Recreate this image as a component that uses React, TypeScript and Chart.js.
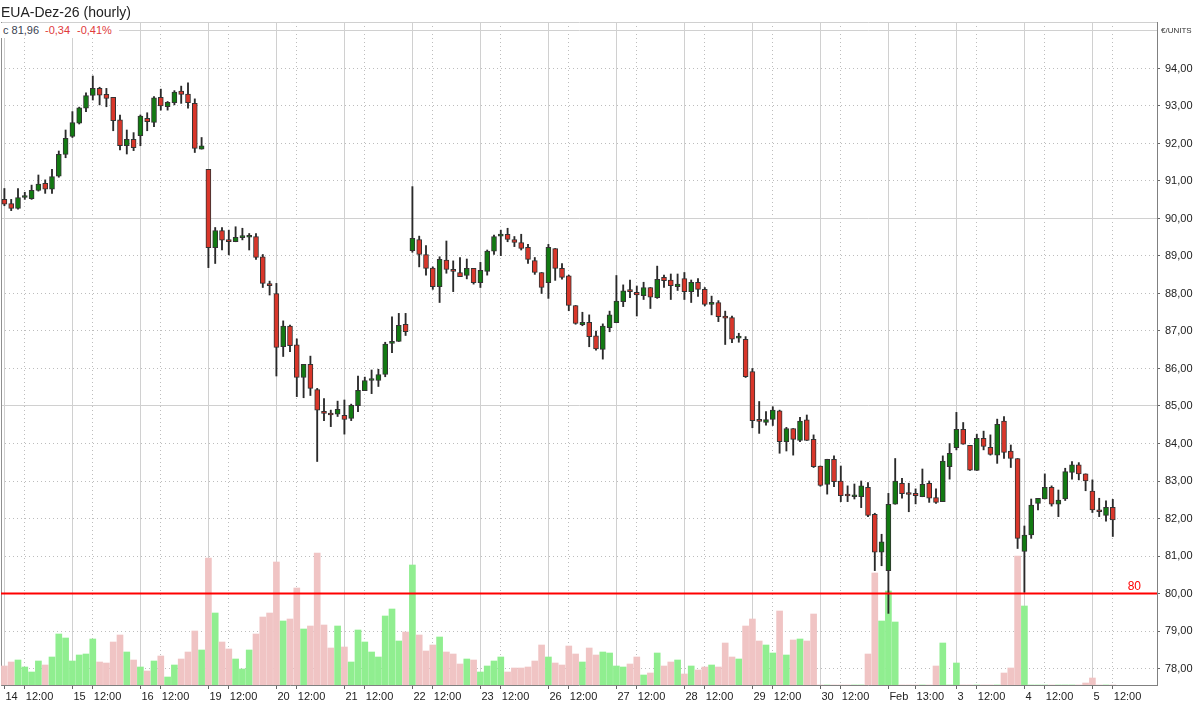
import React, { useEffect, useRef } from "react";
import { Chart, registerables } from "chart.js";

Chart.register(...registerables);

// ---- data (hourly candles, index 0 = 14 Jan 09:00) ----
const opens = [
  90.51, 90.40, 90.27, 90.56, 90.53, 90.75, 90.94, 90.78, 91.13, 91.71,
  92.19, 92.54, 92.94, 93.28, 93.47, 93.31, 93.23, 92.63, 91.94, 92.11,
  92.21, 92.67, 92.56, 93.23, 92.98, 93.09, 93.40, 93.32, 93.07, 91.85,
  91.31, 89.22, 89.68, 89.44, 89.38, 89.49, 89.50, 89.52, 88.98, 88.24,
  88.00, 86.58, 87.13, 86.63, 85.76, 86.11, 85.44, 84.86, 84.77, 84.78,
  84.75, 84.67, 85.01, 85.41, 85.68, 85.68, 85.84, 86.67, 86.72, 87.18,
  89.14, 89.44, 89.04, 88.68, 88.18, 88.89, 88.64, 88.56, 88.48, 88.67,
  88.29, 88.59, 89.13, 89.53, 89.58, 89.44, 89.36, 89.23, 88.88, 88.56,
  88.29, 89.20, 88.67, 88.47, 87.68, 87.17, 87.23, 86.87, 86.51, 87.09,
  87.22, 87.78, 88.07, 88.03, 87.94, 88.16, 87.89, 88.43, 88.36, 88.18,
  88.40, 88.05, 88.30, 88.11, 87.71, 87.76, 87.40, 87.36, 86.81, 86.78,
  85.92, 84.61, 84.56, 84.64, 84.87, 84.05, 84.40, 84.08, 84.63, 84.11,
  83.40, 82.91, 83.58, 83.00, 82.62, 82.58, 82.58, 82.83, 82.11, 81.10,
  80.61, 82.38, 82.94, 82.66, 82.67, 82.58, 82.94, 82.56, 82.45, 83.38,
  83.89, 84.38, 83.95, 83.28, 84.14, 83.90, 83.69, 84.60, 83.80, 83.60,
  81.12, 81.56, 82.40, 82.52, 82.83, 82.38, 82.52, 83.23, 83.43, 83.19,
  82.73, 82.20, 82.08, 82.30,
];
const highs = [
  90.80, 90.51, 90.80, 90.70, 90.89, 91.16, 91.03, 91.31, 91.80, 92.36,
  92.85, 92.97, 93.35, 93.80, 93.50, 93.47, 93.23, 92.76, 92.36, 92.29,
  92.76, 92.82, 93.25, 93.45, 93.12, 93.41, 93.53, 93.62, 93.19, 92.16,
  91.31, 89.76, 89.76, 89.69, 89.78, 89.74, 89.60, 89.60, 89.04, 88.33,
  88.27, 87.27, 87.16, 86.79, 86.11, 86.33, 85.47, 85.20, 84.89, 85.13,
  85.16, 85.05, 85.80, 85.77, 85.96, 85.98, 86.70, 87.38, 87.47, 87.47,
  90.85, 89.53, 89.28, 88.71, 88.98, 89.40, 88.87, 88.96, 88.92, 88.67,
  88.83, 89.16, 89.56, 89.69, 89.74, 89.52, 89.58, 89.31, 88.96, 88.56,
  89.31, 89.20, 88.80, 88.49, 87.68, 87.50, 87.43, 87.00, 87.19, 87.53,
  88.48, 88.23, 88.36, 88.20, 88.30, 88.16, 88.73, 88.49, 88.52, 88.52,
  88.56, 88.36, 88.40, 88.16, 87.93, 87.81, 87.53, 87.40, 86.94, 86.85,
  86.00, 85.12, 84.85, 84.98, 84.89, 84.43, 84.40, 84.70, 84.76, 84.23,
  83.40, 83.58, 83.67, 83.40, 82.87, 82.92, 83.00, 82.96, 82.14, 81.58,
  82.67, 83.60, 83.07, 82.94, 82.79, 83.32, 83.00, 82.79, 83.67, 84.00,
  84.83, 84.56, 83.95, 84.25, 84.33, 84.23, 84.65, 84.72, 83.96, 83.60,
  81.80, 82.52, 82.54, 83.19, 82.87, 82.76, 83.34, 83.52, 83.49, 83.19,
  83.03, 82.54, 82.47, 82.51,
];
const lows = [
  90.34, 90.21, 90.25, 90.51, 90.51, 90.73, 90.67, 90.67, 91.10, 91.62,
  92.16, 92.52, 92.85, 93.16, 93.03, 92.98, 92.34, 91.83, 91.72, 91.81,
  91.94, 92.34, 92.45, 92.89, 92.89, 93.03, 93.07, 92.94, 91.76, 91.85,
  88.69, 88.80, 89.16, 89.03, 89.38, 89.43, 89.16, 88.91, 88.16, 87.96,
  85.80, 86.32, 86.45, 85.25, 85.22, 85.28, 83.52, 84.61, 84.45, 84.72,
  84.25, 84.61, 84.85, 85.41, 85.33, 85.52, 85.78, 86.42, 86.72, 86.88,
  89.10, 88.71, 88.49, 88.11, 87.76, 88.54, 88.05, 88.45, 88.39, 88.25,
  88.16, 88.49, 89.04, 89.01, 89.38, 89.25, 89.16, 88.80, 88.51, 88.00,
  87.87, 88.35, 88.38, 87.54, 87.18, 87.14, 86.58, 86.49, 86.25, 86.98,
  87.22, 87.65, 87.89, 87.40, 87.84, 87.60, 87.87, 88.16, 87.84, 88.08,
  87.84, 87.76, 87.92, 87.67, 87.43, 87.25, 86.64, 86.69, 86.70, 85.76,
  84.42, 84.27, 84.49, 84.48, 83.74, 83.80, 83.69, 84.05, 84.08, 83.36,
  82.86, 82.65, 82.85, 82.45, 82.45, 82.52, 82.29, 82.05, 80.61, 80.74,
  79.47, 82.38, 82.54, 82.18, 82.39, 82.58, 82.43, 82.40, 82.45, 83.05,
  83.83, 83.98, 83.28, 83.28, 83.83, 83.69, 83.47, 83.60, 83.36, 81.20,
  80.03, 81.47, 82.23, 82.52, 82.33, 82.05, 82.48, 83.05, 83.03, 82.74,
  82.16, 82.05, 81.93, 81.52,
];
const closes = [
  90.38, 90.27, 90.56, 90.59, 90.75, 90.92, 90.78, 91.12, 91.71, 92.14,
  92.56, 92.95, 93.28, 93.47, 93.29, 93.20, 92.61, 91.94, 92.11, 91.89,
  92.73, 92.58, 93.22, 93.00, 93.10, 93.37, 93.31, 93.09, 91.87, 91.94,
  89.22, 89.68, 89.42, 89.38, 89.50, 89.51, 89.53, 88.96, 88.27, 88.21,
  86.56, 87.13, 86.61, 85.76, 86.11, 85.47, 84.89, 84.80, 84.76, 84.91,
  84.64, 85.02, 85.42, 85.68, 85.71, 85.84, 86.65, 86.72, 87.15, 86.98,
  89.47, 89.04, 88.67, 88.18, 88.91, 88.64, 88.59, 88.45, 88.67, 88.29,
  88.62, 89.13, 89.52, 89.57, 89.44, 89.36, 89.20, 88.91, 88.56, 88.16,
  89.23, 88.67, 88.43, 87.68, 87.20, 87.23, 86.85, 86.52, 87.13, 87.43,
  87.80, 88.07, 88.05, 87.96, 88.16, 87.90, 88.38, 88.34, 88.21, 88.25,
  88.05, 88.30, 88.11, 87.71, 87.76, 87.38, 87.34, 86.78, 86.83, 85.78,
  84.61, 84.59, 84.64, 84.89, 84.05, 84.40, 84.11, 84.60, 84.08, 83.38,
  82.88, 83.58, 82.98, 82.61, 82.60, 82.62, 82.87, 82.08, 81.10, 81.38,
  82.38, 83.00, 82.66, 82.64, 82.61, 82.91, 82.54, 82.43, 83.53, 83.74,
  84.38, 83.98, 83.29, 84.14, 83.92, 83.71, 84.51, 83.76, 83.60, 81.47,
  81.56, 82.36, 82.54, 82.83, 82.38, 82.49, 83.25, 83.43, 83.19, 83.00,
  82.23, 82.18, 82.30, 81.96,
];
const volumes = [
  19, 23, 25, 18, 13, 24, 20, 28, 51, 47,
  24, 30, 31, 46, 23, 22, 43, 50, 33, 25,
  18, 14, 24, 29, 8, 20, 26, 33, 54, 35,
  127, 72, 43, 36, 26, 16, 35, 51, 68, 72,
  123, 64, 66, 97, 56, 59, 132, 60, 37, 59,
  38, 23, 55, 43, 33, 28, 69, 76, 44, 53,
  120, 50, 34, 40, 48, 33, 31, 21, 26, 25,
  13, 19, 24, 28, 13, 17, 17, 18, 24, 40,
  28, 22, 20, 39, 31, 23, 37, 30, 33, 32,
  19, 18, 21, 28, 10, 12, 32, 19, 23, 25,
  11, 19, 15, 18, 20, 18, 42, 28, 26, 59,
  66, 44, 40, 32, 74, 30, 45, 46, 44, 71,
  0, 0, 0, 0, 0, 0, 0, 31, 112, 64,
  94, 63, 0, 0, 0, 0, 0, 19, 42, 0,
  22, 0, 0, 0, 0, 0, 0, 12, 17, 129,
  79, 0, 0, 0, 0, 0, 0, 0, 0, 2,
  7, 0, 0, 0,
];

const xTickIndex = [0, 3, 10, 13, 20, 23, 30, 33, 40, 43, 50, 53, 60, 63, 70, 73, 80, 83, 90, 93, 100, 103, 110, 113, 120, 123, 130, 134, 140, 143, 150, 153, 160, 163];
const xTickLabels = ["14", "12:00", "15", "12:00", "16", "12:00", "19", "12:00", "20", "12:00", "21", "12:00", "22", "12:00", "23", "12:00", "26", "12:00", "27", "12:00", "28", "12:00", "29", "12:00", "30", "12:00", "Feb", "13:00", "3", "12:00", "4", "12:00", "5", "12:00"];
const priceTicks = [78, 79, 80, 81, 82, 83, 84, 85, 86, 87, 88, 89, 90, 91, 92, 93, 94];
const majorPriceLines = [80, 85, 90, 95];
const priceMin = 77.56;
const priceMax = 95.24;
const slotMin = -0.5;
const slotMax = 169.5;
const volumeMax = 663;
const alertLevel = 80;
const titleText = "EUA-Dez-26 (hourly)";
const lastCloseText = "c 81,96";
const changeText = "-0,34";
const changePctText = "-0,41%";
const unitText = "€/UNITS";

const FONT = '"Liberation Sans", Arial, sans-serif';
const RED = "#d9362a";
const GREEN = "#127a12";
const VOL_RED = "#f0c4c4";
const VOL_GREEN = "#90ee90";
const DOT = "#bdbdbd";
const SOLID = "#d0d0d0";
const TRANSPARENT = "rgba(0,0,0,0)";

const isDayLabel = (i: number) => !!xTickLabels[i] && xTickLabels[i].indexOf(":") < 0;
const dayTickIndex = xTickIndex.filter((_, i) => isDayLabel(i));

const levelLinePlugin = {
  id: "levelLine",
  afterDatasetsDraw(chart: any) {
    const { ctx, chartArea, scales } = chart;
    const y = scales.y.getPixelForValue(alertLevel);
    ctx.save();
    ctx.strokeStyle = "#ff0000";
    ctx.lineWidth = 2;
    ctx.beginPath();
    ctx.moveTo(chartArea.left, y);
    ctx.lineTo(chartArea.right, y);
    ctx.stroke();
    ctx.fillStyle = "#ff0000";
    ctx.font = `12px ${FONT}`;
    ctx.textAlign = "right";
    ctx.textBaseline = "alphabetic";
    ctx.fillText(String(alertLevel), chartArea.right - 16, y - 4);
    ctx.restore();
  },
};

export default function App() {
  const canvasRef = useRef<HTMLCanvasElement | null>(null);

  useEffect(() => {
    if (!canvasRef.current) return;
    const idx = opens.map((_, i) => i);
    const up = (i: number) => closes[i] >= opens[i];

    const chart = new Chart(canvasRef.current, {
      type: "bar",
      data: {
        datasets: [
          {
            label: "body",
            data: idx.map((i) => ({ x: i, y: [opens[i], closes[i]] })) as any,
            backgroundColor: idx.map((i) => (up(i) ? GREEN : RED)),
            borderColor: "#333333",
            borderWidth: 1,
            borderSkipped: false,
            barThickness: 5,
            minBarLength: 2,
            grouped: false,
            order: 0,
            xAxisID: "x",
            yAxisID: "y",
          } as any,
          {
            label: "wick",
            data: idx.map((i) => ({ x: i, y: [lows[i], highs[i]] })) as any,
            backgroundColor: "#2a2a2a",
            borderWidth: 0,
            barThickness: 1.2,
            grouped: false,
            order: 1,
            xAxisID: "x",
            yAxisID: "y",
          } as any,
          {
            label: "volume",
            data: idx.map((i) => ({ x: i, y: volumes[i] })) as any,
            backgroundColor: idx.map((i) => (up(i) ? VOL_GREEN : VOL_RED)),
            borderWidth: 0,
            barThickness: 6,
            grouped: false,
            order: 2,
            xAxisID: "x",
            yAxisID: "yVol",
          } as any,
        ],
      },
      options: {
        responsive: false,
        animation: false,
        devicePixelRatio: 1,
        events: [],
        layout: { padding: { left: 1, top: 22, right: 0, bottom: 0 } },
        plugins: { legend: { display: false }, tooltip: { enabled: false } },
        scales: {
          x: {
            type: "linear",
            position: "bottom",
            min: slotMin,
            max: slotMax,
            offset: false,
            afterBuildTicks: (s: any) => {
              s.ticks = xTickIndex.map((v) => ({ value: v }));
            },
            afterFit: (s: any) => {
              s.height = 20;
            },
            ticks: {
              autoSkip: false,
              maxRotation: 0,
              minRotation: 0,
              align: "start",
              padding: 1,
              labelOffset: 1,
              color: "#222222",
              font: { family: FONT, size: 11 },
              callback: (_v: any, i: number) => xTickLabels[i],
            },
            grid: {
              offset: false,
              color: (c: any) => (isDayLabel(c.index) ? TRANSPARENT : DOT),
              lineWidth: 1,
              drawTicks: true,
              tickLength: 4,
              tickColor: "#666666",
              tickWidth: 1,
              tickBorderDash: [],
            },
            border: { display: true, color: "#808080", width: 1, dash: [1, 3] },
          },
          x2: {
            type: "linear",
            position: "top",
            min: slotMin,
            max: slotMax,
            offset: false,
            afterBuildTicks: (s: any) => {
              s.ticks = dayTickIndex.map((v) => ({ value: v }));
            },
            afterFit: (s: any) => {
              s.height = 0;
            },
            ticks: { display: false },
            grid: { offset: false, color: SOLID, lineWidth: 1, drawTicks: false },
            border: { display: true, color: "#d0d0d0", width: 1 },
          },
          y: {
            type: "linear",
            position: "right",
            min: priceMin,
            max: priceMax,
            afterBuildTicks: (s: any) => {
              s.ticks = priceTicks.map((v) => ({ value: v }));
            },
            afterFit: (s: any) => {
              s.width = 43;
            },
            ticks: {
              padding: 5,
              color: "#222222",
              font: { family: FONT, size: 11 },
              callback: (v: any) => Number(v).toFixed(2).replace(".", ","),
            },
            grid: {
              color: (c: any) =>
                c.tick && majorPriceLines.indexOf(c.tick.value) >= 0 ? TRANSPARENT : DOT,
              lineWidth: 1,
              tickLength: 3,
              tickColor: "#666666",
              tickWidth: 1,
              tickBorderDash: [],
            },
            border: { display: true, color: "#808080", width: 1, dash: [1, 3] },
          },
          y2: {
            type: "linear",
            position: "left",
            min: priceMin,
            max: priceMax,
            afterBuildTicks: (s: any) => {
              s.ticks = majorPriceLines.map((v) => ({ value: v }));
            },
            afterFit: (s: any) => {
              s.width = 0;
            },
            ticks: { display: false },
            grid: { color: SOLID, lineWidth: 1, drawTicks: false },
            border: { display: true, color: "#909090", width: 1 },
          },
          yVol: {
            type: "linear",
            display: false,
            min: 0,
            max: volumeMax,
          },
        } as any,
      },
      plugins: [levelLinePlugin],
    });
    return () => chart.destroy();
  }, []);

  return (
    <div
      style={{
        position: "absolute",
        left: 0,
        top: 0,
        width: 1200,
        height: 705,
        background: "#ffffff",
        overflow: "hidden",
        fontFamily: FONT,
      }}
    >
      <canvas ref={canvasRef} width={1200} height={705} style={{ display: "block", width: 1200, height: 705 }} />
      <div style={{ position: "absolute", left: 1, top: 4, fontSize: 14, lineHeight: "16px", color: "#222", whiteSpace: "nowrap" }}>
        {titleText}
      </div>
      <div style={{ position: "absolute", left: 0, top: 23, width: 119, height: 15, background: "#ffffff" }} />
      <div style={{ position: "absolute", left: 3, top: 24, fontSize: 11, lineHeight: "13px", color: "#3a4250", whiteSpace: "nowrap" }}>
        {lastCloseText}
      </div>
      <div style={{ position: "absolute", left: 45, top: 24, fontSize: 11, lineHeight: "13px", color: "#e03a3a", whiteSpace: "nowrap" }}>
        {changeText}
      </div>
      <div style={{ position: "absolute", left: 77, top: 24, fontSize: 11, lineHeight: "13px", color: "#e03a3a", whiteSpace: "nowrap" }}>
        {changePctText}
      </div>
      <div style={{ position: "absolute", left: 1161, top: 26, fontSize: 8, lineHeight: "10px", color: "#333", whiteSpace: "nowrap" }}>
        {unitText}
      </div>
    </div>
  );
}
